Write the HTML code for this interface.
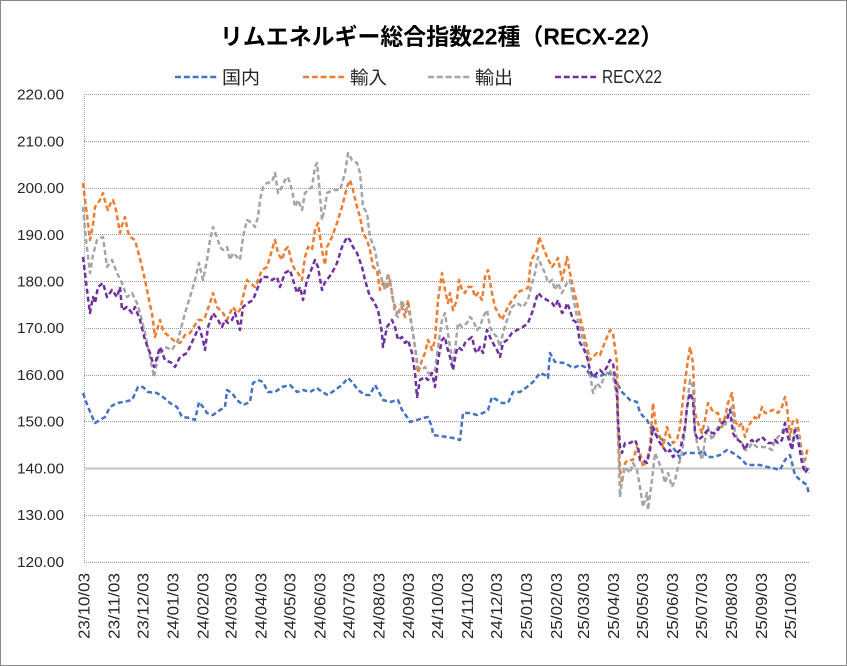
<!DOCTYPE html>
<html><head><meta charset="utf-8"><style>
html,body{margin:0;padding:0;background:#fff;}
svg{display:block;}
</style></head><body>
<svg width="847" height="666" viewBox="0 0 847 666" xmlns="http://www.w3.org/2000/svg">
<rect x="0" y="0" width="847" height="666" fill="#fff"/>
<rect x="0.5" y="0.5" width="846" height="665" fill="none" stroke="#8a8a8a" stroke-width="1"/>

<!-- gridlines -->
<g stroke="#9a9a9a" stroke-width="1" stroke-dasharray="1 1" fill="none">
<line x1="84" y1="94.5" x2="810" y2="94.5"/>
<line x1="84" y1="141.5" x2="810" y2="141.5"/>
<line x1="84" y1="188.5" x2="810" y2="188.5"/>
<line x1="84" y1="234.5" x2="810" y2="234.5"/>
<line x1="84" y1="281.5" x2="810" y2="281.5"/>
<line x1="84" y1="328.5" x2="810" y2="328.5"/>
<line x1="84" y1="375.5" x2="810" y2="375.5"/>
<line x1="84" y1="421.5" x2="810" y2="421.5"/>
<line x1="84" y1="515.5" x2="810" y2="515.5"/>
<line x1="84" y1="562.5" x2="810" y2="562.5"/>
<line x1="84.5" y1="94" x2="84.5" y2="562"/>
</g>
<line x1="84" y1="468.5" x2="810" y2="468.5" stroke="#c4c4c4" stroke-width="2"/>

<!-- y labels -->
<g font-family="Liberation Sans, sans-serif" font-size="14.5" fill="#262626" text-anchor="end">
<text x="64" y="99.6" textLength="47" lengthAdjust="spacingAndGlyphs">220.00</text>
<text x="64" y="146.3" textLength="47" lengthAdjust="spacingAndGlyphs">210.00</text>
<text x="64" y="193.0" textLength="47" lengthAdjust="spacingAndGlyphs">200.00</text>
<text x="64" y="239.8" textLength="47" lengthAdjust="spacingAndGlyphs">190.00</text>
<text x="64" y="286.5" textLength="47" lengthAdjust="spacingAndGlyphs">180.00</text>
<text x="64" y="333.2" textLength="47" lengthAdjust="spacingAndGlyphs">170.00</text>
<text x="64" y="379.9" textLength="47" lengthAdjust="spacingAndGlyphs">160.00</text>
<text x="64" y="426.6" textLength="47" lengthAdjust="spacingAndGlyphs">150.00</text>
<text x="64" y="473.4" textLength="47" lengthAdjust="spacingAndGlyphs">140.00</text>
<text x="64" y="520.1" textLength="47" lengthAdjust="spacingAndGlyphs">130.00</text>
<text x="64" y="566.8" textLength="47" lengthAdjust="spacingAndGlyphs">120.00</text>
</g>

<!-- x labels -->
<g font-family="Liberation Sans, sans-serif" font-size="16" fill="#262626" text-anchor="end">
<text transform="translate(89.5,573) rotate(-90)" textLength="66" lengthAdjust="spacingAndGlyphs">23/10/03</text>
<text transform="translate(119.5,573) rotate(-90)" textLength="66" lengthAdjust="spacingAndGlyphs">23/11/03</text>
<text transform="translate(148.5,573) rotate(-90)" textLength="66" lengthAdjust="spacingAndGlyphs">23/12/03</text>
<text transform="translate(178.4,573) rotate(-90)" textLength="66" lengthAdjust="spacingAndGlyphs">24/01/03</text>
<text transform="translate(208.4,573) rotate(-90)" textLength="66" lengthAdjust="spacingAndGlyphs">24/02/03</text>
<text transform="translate(236.4,573) rotate(-90)" textLength="66" lengthAdjust="spacingAndGlyphs">24/03/03</text>
<text transform="translate(266.4,573) rotate(-90)" textLength="66" lengthAdjust="spacingAndGlyphs">24/04/03</text>
<text transform="translate(295.4,573) rotate(-90)" textLength="66" lengthAdjust="spacingAndGlyphs">24/05/03</text>
<text transform="translate(325.3,573) rotate(-90)" textLength="66" lengthAdjust="spacingAndGlyphs">24/06/03</text>
<text transform="translate(354.3,573) rotate(-90)" textLength="66" lengthAdjust="spacingAndGlyphs">24/07/03</text>
<text transform="translate(384.3,573) rotate(-90)" textLength="66" lengthAdjust="spacingAndGlyphs">24/08/03</text>
<text transform="translate(414.2,573) rotate(-90)" textLength="66" lengthAdjust="spacingAndGlyphs">24/09/03</text>
<text transform="translate(443.2,573) rotate(-90)" textLength="66" lengthAdjust="spacingAndGlyphs">24/10/03</text>
<text transform="translate(473.2,573) rotate(-90)" textLength="66" lengthAdjust="spacingAndGlyphs">24/11/03</text>
<text transform="translate(502.2,573) rotate(-90)" textLength="66" lengthAdjust="spacingAndGlyphs">24/12/03</text>
<text transform="translate(532.2,573) rotate(-90)" textLength="66" lengthAdjust="spacingAndGlyphs">25/01/03</text>
<text transform="translate(562.1,573) rotate(-90)" textLength="66" lengthAdjust="spacingAndGlyphs">25/02/03</text>
<text transform="translate(589.2,573) rotate(-90)" textLength="66" lengthAdjust="spacingAndGlyphs">25/03/03</text>
<text transform="translate(619.1,573) rotate(-90)" textLength="66" lengthAdjust="spacingAndGlyphs">25/04/03</text>
<text transform="translate(648.1,573) rotate(-90)" textLength="66" lengthAdjust="spacingAndGlyphs">25/05/03</text>
<text transform="translate(678.1,573) rotate(-90)" textLength="66" lengthAdjust="spacingAndGlyphs">25/06/03</text>
<text transform="translate(707.1,573) rotate(-90)" textLength="66" lengthAdjust="spacingAndGlyphs">25/07/03</text>
<text transform="translate(737.1,573) rotate(-90)" textLength="66" lengthAdjust="spacingAndGlyphs">25/08/03</text>
<text transform="translate(767.0,573) rotate(-90)" textLength="66" lengthAdjust="spacingAndGlyphs">25/09/03</text>
<text transform="translate(796.0,573) rotate(-90)" textLength="66" lengthAdjust="spacingAndGlyphs">25/10/03</text>
</g>

<!-- title -->
<text x="220" y="44.5" font-family="Liberation Sans, Noto Sans CJK JP, sans-serif" font-size="23" font-weight="bold" fill="#000" textLength="443" lengthAdjust="spacingAndGlyphs">リムエネルギー総合指数22種（RECX-22）</text>

<!-- legend -->
<g stroke-width="2.5" stroke-dasharray="6 2.8">
<line x1="175" y1="77" x2="219" y2="77" stroke="#4472C4"/>
<line x1="303" y1="77" x2="347" y2="77" stroke="#ED7D31"/>
<line x1="428" y1="77" x2="472" y2="77" stroke="#A5A5A5"/>
<line x1="555" y1="77" x2="599" y2="77" stroke="#7030A0"/>
</g>
<g font-family="Liberation Sans, Noto Sans CJK JP, sans-serif" font-size="18" fill="#262626">
<text x="222" y="84" textLength="38" lengthAdjust="spacingAndGlyphs">国内</text>
<text x="350" y="84" textLength="37" lengthAdjust="spacingAndGlyphs">輸入</text>
<text x="475" y="84" textLength="38" lengthAdjust="spacingAndGlyphs">輸出</text>
<text x="602" y="83" textLength="60" lengthAdjust="spacingAndGlyphs">RECX22</text>
</g>

<!-- series -->
<g fill="none" stroke-width="2.5" stroke-dasharray="5 3" stroke-linejoin="round">
<polyline stroke="#4472C4" points="83,393 88,407 95,423 100,420 105,417 110,407 117,403 123,402 132,400 138,387 143,387 148,392 157,393 163,397 170,403 177,407 182,417 190,418 195,420 199,402 203,407 207,413 213,415 220,410 225,407 227,390 232,393 237,400 243,405 250,402 253,383 258,380 263,382 268,392 275,392 282,387 290,385 297,392 303,390 310,392 317,388 322,392 328,395 335,390 342,385 348,378 353,383 358,390 365,395 370,395 375,385 378,390 383,400 390,402 398,400 402,410 407,417 410,422 417,420 423,418 428,417 432,427 433,435 440,436 447,437 453,438 460,440 463,413 470,413 477,415 483,413 488,410 492,397 497,400 502,403 508,403 513,392 520,392 527,387 533,382 540,373 545,375 548,378 550,353 555,362 565,363 573,368 580,365 585,367 590,375 597,377 603,375 610,373 617,383 622,392 627,397 630,400 637,402 640,413 647,420 652,430 658,437 663,440 668,443 675,450 680,458 685,453 690,453 695,453 700,453 703,450 707,457 713,457 720,455 727,450 733,453 740,458 747,465 753,465 760,465 767,467 773,468 780,470 785,460 790,455 795,475 800,480 807,485 809,495"/>
<polyline stroke="#ED7D31" points="83,183 85,200 87,215 90,240 93,225 95,207 100,200 103,193 106,205 108,210 111,202 113,200 116,210 120,233 122,225 125,217 128,232 130,237 135,240 139,255 142,267 145,280 147,290 150,305 152,313 155,337 157,330 160,320 163,330 165,333 170,337 173,340 177,342 180,343 185,335 190,333 195,325 198,320 202,320 205,317 210,303 213,293 217,307 220,310 223,313 227,320 230,313 233,307 237,313 240,310 243,297 247,280 250,283 255,287 258,280 262,270 267,267 272,250 275,240 278,253 282,260 285,250 288,247 292,263 295,270 298,273 302,280 305,257 308,247 312,250 315,230 318,223 322,250 325,265 327,247 332,237 337,223 342,207 347,187 350,180 353,190 357,207 360,217 363,233 367,240 370,250 373,267 377,270 380,290 383,283 387,287 390,280 393,300 397,313 402,307 405,317 408,300 412,327 415,347 418,373 422,360 425,353 428,340 432,350 435,340 438,300 442,273 445,290 448,303 450,293 453,310 457,300 459,280 462,290 465,293 468,287 472,287 475,297 478,293 482,300 485,277 488,270 492,293 495,307 498,313 502,320 505,313 508,307 512,300 515,297 518,292 523,290 528,288 531,260 533,257 537,250 539,237 543,247 547,257 552,267 555,263 558,258 562,280 565,267 567,257 570,273 573,287 577,303 580,317 583,330 587,347 590,360 593,357 597,353 600,355 603,347 607,337 610,330 613,333 617,363 618,420 620,470 622,483 625,463 628,460 633,460 637,447 640,453 643,467 647,460 650,447 653,403 656,427 660,437 663,447 667,427 670,437 673,443 677,440 680,427 684,390 687,367 690,347 693,363 695,413 698,423 702,433 705,420 708,403 712,410 715,413 718,413 722,427 725,417 728,403 732,393 735,420 738,427 742,423 745,437 748,427 752,420 755,417 758,420 762,407 765,413 768,413 772,410 775,410 778,413 782,407 785,397 787,407 790,437 793,420 797,420 799,433 802,453 805,460 808,447"/>
<polyline stroke="#A5A5A5" points="83,207 86,240 90,273 93,255 97,240 103,237 107,267 112,260 117,273 122,283 127,297 132,293 137,303 140,313 145,333 150,357 154,377 158,357 165,347 172,350 178,340 185,313 190,297 195,280 199,263 203,280 207,260 210,240 213,227 217,237 220,247 223,250 227,247 230,260 233,253 237,257 240,260 243,237 247,220 252,223 255,227 258,217 260,200 263,187 267,183 272,182 275,173 278,193 282,187 285,180 288,177 292,190 295,207 298,200 302,210 305,193 308,190 312,187 315,167 317,163 319,183 322,220 325,207 327,193 333,190 340,190 345,173 348,153 352,160 357,163 360,173 363,207 367,213 370,237 375,250 378,267 382,280 385,290 388,273 392,293 395,313 398,317 402,300 405,310 408,307 412,327 415,347 418,367 422,370 425,367 428,373 432,373 435,370 438,347 442,320 445,313 447,327 450,347 453,363 455,350 458,323 462,327 467,323 470,317 473,320 477,330 480,327 483,317 487,310 490,327 493,333 497,337 500,347 503,333 507,320 512,307 517,303 523,307 528,300 532,283 535,273 538,257 542,267 545,273 548,283 552,280 555,290 558,283 562,293 567,283 570,280 573,297 577,317 580,327 583,340 587,353 590,373 593,393 597,383 600,387 603,380 607,373 610,370 613,377 617,397 618,437 620,497 622,480 625,467 630,473 633,463 637,470 640,487 643,507 647,493 648,510 652,480 655,453 658,460 662,470 665,483 668,473 672,487 675,480 678,467 682,453 685,430 687,407 690,380 693,387 695,433 698,447 702,460 705,440 708,427 712,440 715,433 718,427 722,423 725,427 728,413 732,407 735,433 738,440 742,443 745,450 748,450 752,443 757,447 762,447 767,447 772,450 775,440 778,437 782,433 785,423 788,433 792,447 795,427 798,433 802,453 805,467 809,473"/>
<polyline stroke="#7030A0" points="83,257 87,290 90,313 93,297 95,303 98,287 103,283 107,297 112,290 117,297 120,287 122,310 127,307 132,313 135,307 140,320 145,340 150,353 154,367 160,347 165,360 172,363 175,367 180,357 187,353 193,340 199,327 203,340 205,350 208,327 213,313 218,320 222,327 225,320 228,323 232,320 235,313 238,323 240,330 243,307 248,303 253,300 258,287 262,277 267,277 272,280 277,277 280,287 285,273 290,270 293,280 297,293 300,287 303,300 307,280 310,273 315,260 318,267 322,290 325,282 327,280 332,273 337,263 342,247 347,237 350,240 353,247 357,253 362,267 365,280 370,297 373,300 378,310 382,333 383,347 387,327 392,320 395,327 398,340 402,337 405,343 408,340 412,353 415,373 417,397 420,380 425,377 428,380 432,373 435,387 438,360 442,340 445,337 447,347 450,357 453,370 456,353 458,347 462,350 465,343 468,340 472,337 475,350 477,353 480,347 483,353 487,330 490,337 493,343 497,350 500,357 503,343 507,340 512,333 517,330 523,327 528,323 532,313 535,303 538,293 542,297 547,300 552,303 555,307 558,300 562,313 565,310 567,303 570,310 573,320 577,323 580,343 583,347 587,357 590,370 593,377 597,373 600,370 603,373 607,367 610,360 613,363 617,393 618,420 620,447 622,453 625,443 630,443 635,440 638,447 640,460 643,460 647,463 650,450 653,427 657,437 660,443 663,447 667,453 670,450 673,457 677,453 680,450 683,437 685,427 687,407 690,393 693,400 695,433 698,440 702,437 705,433 708,430 712,433 715,433 718,430 722,423 727,420 730,410 733,433 735,437 738,440 742,443 745,450 748,443 752,440 755,443 758,440 762,437 765,440 768,443 772,443 775,440 778,443 782,440 785,423 788,437 792,450 795,430 798,440 802,463 805,473 809,467"/>
</g>
</svg>
</body></html>
